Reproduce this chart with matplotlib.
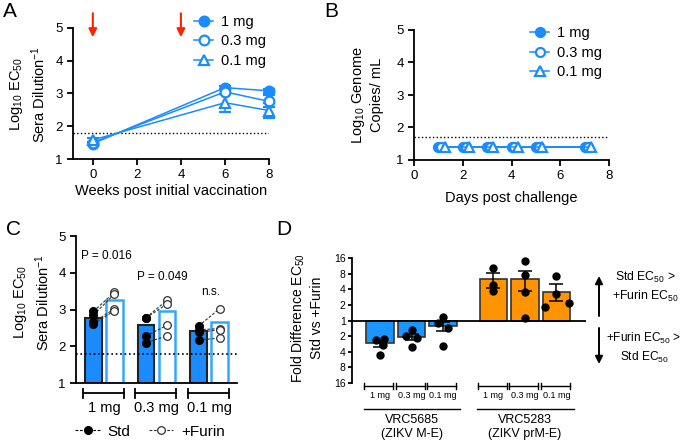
import numpy as np
import matplotlib
matplotlib.use('Agg')
from matplotlib import pyplot as plt
from matplotlib.lines import Line2D
import matplotlib.transforms as mtrans

plt.rcParams['font.family'] = ['Liberation Sans', 'DejaVu Sans']
plt.rcParams['mathtext.fontset'] = 'custom'
plt.rcParams['mathtext.rm'] = 'Liberation Sans'
plt.rcParams['mathtext.it'] = 'Liberation Sans'
plt.rcParams['axes.linewidth'] = 1.3
plt.rcParams['xtick.major.width'] = 1.3
plt.rcParams['ytick.major.width'] = 1.3
plt.rcParams['xtick.major.size'] = 4
plt.rcParams['ytick.major.size'] = 4

# ---- data -------------------------------------------------------------
weeks = [0, 6, 8]
a_1mg = [1.47, 3.18, 3.08]
a_1mg_err = [0.03, 0.05, 0.06]
a_03mg = [1.50, 3.05, 2.76]
a_03mg_err = [0.03, 0.08, 0.18]
a_01mg = [1.58, 2.72, 2.48]
a_01mg_err = [0.05, 0.27, 0.22]
a_limit = 1.78
vacc_weeks = [0, 4]

days = [1, 2, 3, 4, 5, 7]
b_1mg = [1.4, 1.4, 1.4, 1.4, 1.4, 1.4]
b_03mg = [1.4, 1.4, 1.4, 1.4, 1.4, 1.4]
b_01mg = [1.4, 1.4, 1.4, 1.4, 1.4, 1.4]
b_limit = 1.7

c_groups = ['1 mg', '0.3 mg', '0.1 mg']
c_std_bar = [2.77, 2.57, 2.42]
c_furin_bar = [3.27, 2.95, 2.65]
c_std_pts = [[2.95, 2.85, 2.65, 2.60], [2.78, 2.77, 2.28, 2.10], [2.55, 2.45, 2.38, 2.17]]
c_furin_pts = [[3.47, 3.42, 3.02, 2.97], [3.25, 3.15, 2.57, 2.28], [3.02, 2.48, 2.45, 2.22]]
c_pvals = ['P = 0.016', 'P = 0.049', 'n.s.']
c_pval_y = [4.46, 3.88, 3.48]
c_limit = 1.78

d_doses = ['1 mg', '0.3 mg', '0.1 mg']
d_constructs = ['VRC5685\n(ZIKV M-E)', 'VRC5283\n(ZIKV prM-E)']
# log2 fold difference (Std vs +Furin)
d_5685 = [-1.47, -1.03, -0.32]
d_5685_lo = [0.23, 0.23, 0.37]
d_5685_hi = [0.14, 0.18, 0.25]
d_5685_pts = [[-1.27, -1.20, -1.54, -2.20], [-0.60, -0.96, -1.10, -1.67], [0.25, -0.17, -0.45, -1.60]]
d_5283 = [2.63, 2.63, 1.81]
d_5283_lo = [0.54, 0.75, 0.53]
d_5283_hi = [0.42, 0.57, 0.50]
d_5283_pts = [[3.37, 2.30, 1.90], [3.80, 2.90, 1.83, 0.19], [2.86, 1.69, 1.15, 0.87]]
d_ticks = [-4, -3, -2, -1, 0, 1, 2, 3, 4]

BLUE = '#1a8cff'
ORANGE = '#ff9400'

fig = plt.figure(figsize=(6.84, 4.40), dpi=100)
W, H = 684, 440


def px_axes(l, t, r, b):
    return fig.add_axes([l / W, 1 - b / H, (r - l) / W, (b - t) / H])


def clean(ax):
    ax.spines['top'].set_visible(False)
    ax.spines['right'].set_visible(False)
    ax.tick_params(labelsize=9.5, length=4)


def ylab(x, y, s, size=10.5):
    fig.text(x / W, 1 - y / H, s, rotation=90, ha='center', va='center',
             multialignment='center', fontsize=size, linespacing=1.25)


def dose_handles(ms):
    return [Line2D([], [], color=BLUE, marker=m, mfc=fc, mec=BLUE, mew=1.6,
                   ms=ms, lw=1.1)
            for m, fc in [('o', BLUE), ('o', 'white'), ('^', 'white')]]


# ---- A ----------------------------------------------------------------
ax = px_axes(73, 28, 269, 159)
clean(ax)
series = [(a_1mg, a_1mg_err, 'o', BLUE, '1 mg'),
          (a_03mg, a_03mg_err, 'o', 'white', '0.3 mg'),
          (a_01mg, a_01mg_err, '^', 'white', '0.1 mg')]
for vals, err, m, fc, lab in series:
    ax.errorbar(weeks, vals, yerr=err, color=BLUE, marker=m, mfc=fc, mec=BLUE,
                mew=1.6, ms=7, lw=1.1, capsize=4, elinewidth=1.1,
                clip_on=False, zorder=3)
ax.axhline(a_limit, ls=':', color='k', lw=1)
ax.set_xlim(-0.9, 8)
ax.set_ylim(1, 5)
ax.set_xticks([0, 2, 4, 6, 8])
ax.set_yticks([1, 2, 3, 4, 5])
ax.set_xlabel('Weeks post initial vaccination', fontsize=10.5, labelpad=2)
for w in vacc_weeks:
    ax.annotate('', xy=(w, 4.72), xytext=(w, 5.45), annotation_clip=False,
                arrowprops=dict(arrowstyle='-|>', color='#ff2200', lw=1.5,
                                mutation_scale=12, shrinkA=0, shrinkB=0))
ax.legend(dose_handles(7), [s[4] for s in series], loc='upper right',
          bbox_to_anchor=(1.05, 1.2), frameon=False, fontsize=10.5,
          handlelength=1.3, handletextpad=0.5, labelspacing=0.38)
ylab(28, 94, 'Log$_{10}$ EC$_{50}$\nSera Dilution$^{-1}$')

# ---- B ----------------------------------------------------------------
ax = px_axes(414, 30, 609, 160)
clean(ax)
offsets = [0.0, 0.12, 0.26]
b_series = [(b_1mg, 'o', BLUE, '1 mg'), (b_03mg, 'o', 'white', '0.3 mg'),
            (b_01mg, '^', 'white', '0.1 mg')]
for (vals, m, fc, lab), off in zip(b_series, offsets):
    ax.plot(np.array(days) + off, vals, color=BLUE, marker=m, mfc=fc, mec=BLUE,
            mew=1.6, ms=6.5, lw=1.1, zorder=3)
ax.axhline(b_limit, ls=':', color='k', lw=1)
ax.set_xlim(0, 8)
ax.set_ylim(1, 5)
ax.set_xticks([0, 2, 4, 6, 8])
ax.set_yticks([1, 2, 3, 4, 5])
ax.set_xlabel('Days post challenge', fontsize=10.5, labelpad=6)
ax.legend(dose_handles(6.5), [s[3] for s in b_series], loc='upper right',
          bbox_to_anchor=(1.03, 1.13), frameon=False, fontsize=10.5,
          handlelength=1.3, handletextpad=0.5, labelspacing=0.38)
ylab(367, 95, 'Log$_{10}$ Genome\nCopies/ mL')

# ---- C ----------------------------------------------------------------
ax = px_axes(76, 236, 237, 383)
clean(ax)
gx = np.arange(len(c_groups)) * 2.5
xs, xf = gx - 0.5, gx + 0.5
ax.bar(xs, np.array(c_std_bar) - 1, bottom=1, width=0.8, color=BLUE,
       edgecolor='#222222', lw=1.5, zorder=2)
ax.bar(xf, np.array(c_furin_bar) - 1, bottom=1, width=0.8, color='white',
       edgecolor='#33a6ff', lw=1.8, zorder=2)
for i in range(len(c_groups)):
    for s, f in zip(c_std_pts[i], c_furin_pts[i]):
        ax.plot([xs[i], xf[i]], [s, f], ls=(0, (2.5, 1.5)), color='#333333',
                lw=0.8, zorder=3)
    ax.plot([xs[i]] * len(c_std_pts[i]), c_std_pts[i], 'o', color='black',
            ms=5.5, zorder=4)
    ax.plot([xf[i]] * len(c_furin_pts[i]), c_furin_pts[i], 'o', mfc='white',
            mec='#333333', mew=0.9, ms=5.5, zorder=4)
    ax.text(gx[i] + (0.3 if i == 1 else 0.1), c_pval_y[i], c_pvals[i],
            ha='center', va='center', fontsize=8.5)
ax.axhline(c_limit, ls=':', color='k', lw=1.2, zorder=5)
ax.set_xlim(-1.33, 6.33)
ax.set_ylim(1, 5)
ax.set_yticks([1, 2, 3, 4, 5])
ax.set_xticks([])
tr = mtrans.blended_transform_factory(ax.transData, ax.transAxes)
for i, g in enumerate(c_groups):
    ax.plot([gx[i] - 1.0, gx[i] + 0.95], [-0.07, -0.07], color='black', lw=1.3,
            transform=tr, clip_on=False)
    for e in (gx[i] - 1.0, gx[i] + 0.95):
        ax.plot([e, e], [-0.04, -0.10], color='black', lw=1.3, transform=tr,
                clip_on=False)
    ax.text(gx[i], -0.125, g, transform=tr, ha='center', va='top', fontsize=10.5)
h1, = ax.plot([], [], 'o', color='black', ms=5.5, ls=(0, (2.5, 1.5)), lw=0.8)
h2, = ax.plot([], [], 'o', mfc='white', mec='#333333', mew=0.9, ms=5.5,
              color='#333333', ls=(0, (2.5, 1.5)), lw=0.8)
ax.legend([h1, h2], ['Std', '+Furin'], loc='center', ncol=2,
          bbox_to_anchor=(0.46, -0.33), frameon=False, fontsize=11,
          handlelength=1.6, handletextpad=0.5, columnspacing=1.2)
ylab(32, 302, 'Log$_{10}$ EC$_{50}$\nSera Dilution$^{-1}$')

# ---- D ----------------------------------------------------------------
ax = px_axes(352, 258, 586, 383)
for sp in ('top', 'right', 'bottom'):
    ax.spines[sp].set_visible(False)
x1 = np.arange(3)
x2 = np.arange(3) + 3.6
jit = [[-0.15, 0.15, 0.12, 0.0], [0.0, -0.2, 0.2, 0.0], [0.0, -0.2, 0.2, 0.0]]
for xpos, vals, lo, hi, pts, col in [(x1, d_5685, d_5685_lo, d_5685_hi, d_5685_pts, '#1a96ff'),
                                     (x2, d_5283, d_5283_lo, d_5283_hi, d_5283_pts, ORANGE)]:
    ax.bar(xpos, vals, width=0.88, color=col, edgecolor='#333333', lw=1.2,
           zorder=2)
    ax.errorbar(xpos, vals, yerr=[lo, hi], fmt='none', ecolor='black',
                elinewidth=1.1, capsize=5, capthick=1.1, zorder=3)
    for i in range(3):
        if col == ORANGE and i == 2:
            j = [0.0, 0.0, 0.5, -0.45]
        elif col == ORANGE:
            j = [0.0] * len(pts[i])
        else:
            j = jit[i]
        ax.plot(xpos[i] + np.array(j[:len(pts[i])]) * 0.8, pts[i], 'o',
                color='black', ms=5, zorder=4, clip_on=False)
ax.axhline(0, color='black', lw=1.3, zorder=5)
ax.set_xlim(-0.89, 6.54)
ax.set_ylim(-4, 4)
ax.set_yticks(d_ticks)
ax.set_yticklabels([str(2 ** abs(t)) for t in d_ticks])
ax.set_xticks([])
ax.tick_params(labelsize=7.5, length=3, pad=1.5)
tr = mtrans.blended_transform_factory(ax.transData, ax.transAxes)
for xpos in (x1, x2):
    for i, dlab in enumerate(d_doses):
        a, b = xpos[i] - 0.5, xpos[i] + 0.42
        ax.plot([a, b], [-0.024, -0.024], color='black', lw=1, transform=tr,
                clip_on=False)
        for e in (a, b):
            ax.plot([e, e], [0.0, -0.048], color='black', lw=1, transform=tr,
                    clip_on=False)
        ax.text(xpos[i], -0.065, dlab, transform=tr, ha='center', va='top',
                fontsize=6.5)
for xpos, lab in zip((x1, x2), d_constructs):
    ax.plot([xpos[0] - 0.52, xpos[-1] + 0.55], [-0.21, -0.21], color='black',
            lw=1, transform=tr, clip_on=False)
    ax.text((xpos[0] + xpos[-1]) / 2, -0.25, lab, transform=tr, ha='center',
            va='top', fontsize=9, linespacing=1.15)
ylab(307, 318, 'Fold Difference EC$_{50}$\nStd vs +Furin', size=10)
ax.annotate('', xy=(599 / W, 1 - 276 / H), xytext=(599 / W, 1 - 316 / H),
            xycoords='figure fraction', textcoords='figure fraction',
            arrowprops=dict(arrowstyle='-|>', color='black', lw=1.4,
                            mutation_scale=11, shrinkA=0, shrinkB=0))
ax.annotate('', xy=(599 / W, 1 - 364 / H), xytext=(599 / W, 1 - 328 / H),
            xycoords='figure fraction', textcoords='figure fraction',
            arrowprops=dict(arrowstyle='-|>', color='black', lw=1.4,
                            mutation_scale=11, shrinkA=0, shrinkB=0))
fig.text(645 / W, 1 - 287 / H, 'Std EC$_{50}$ >\n+Furin EC$_{50}$', ha='center',
         va='center', fontsize=8.8, linespacing=1.3)
fig.text(644 / W, 1 - 348 / H, '+Furin EC$_{50}$ >\nStd EC$_{50}$', ha='center',
         va='center', fontsize=8.6, linespacing=1.3)

# ---- panel letters ----------------------------------------------------
for x, y, s in [(3, 2, 'A'), (324, 2, 'B'), (6, 220, 'C'), (276, 220, 'D')]:
    fig.text(x / W, 1 - y / H, s, ha='left', va='top', fontsize=15)

fig.savefig('out.png', dpi=100)
